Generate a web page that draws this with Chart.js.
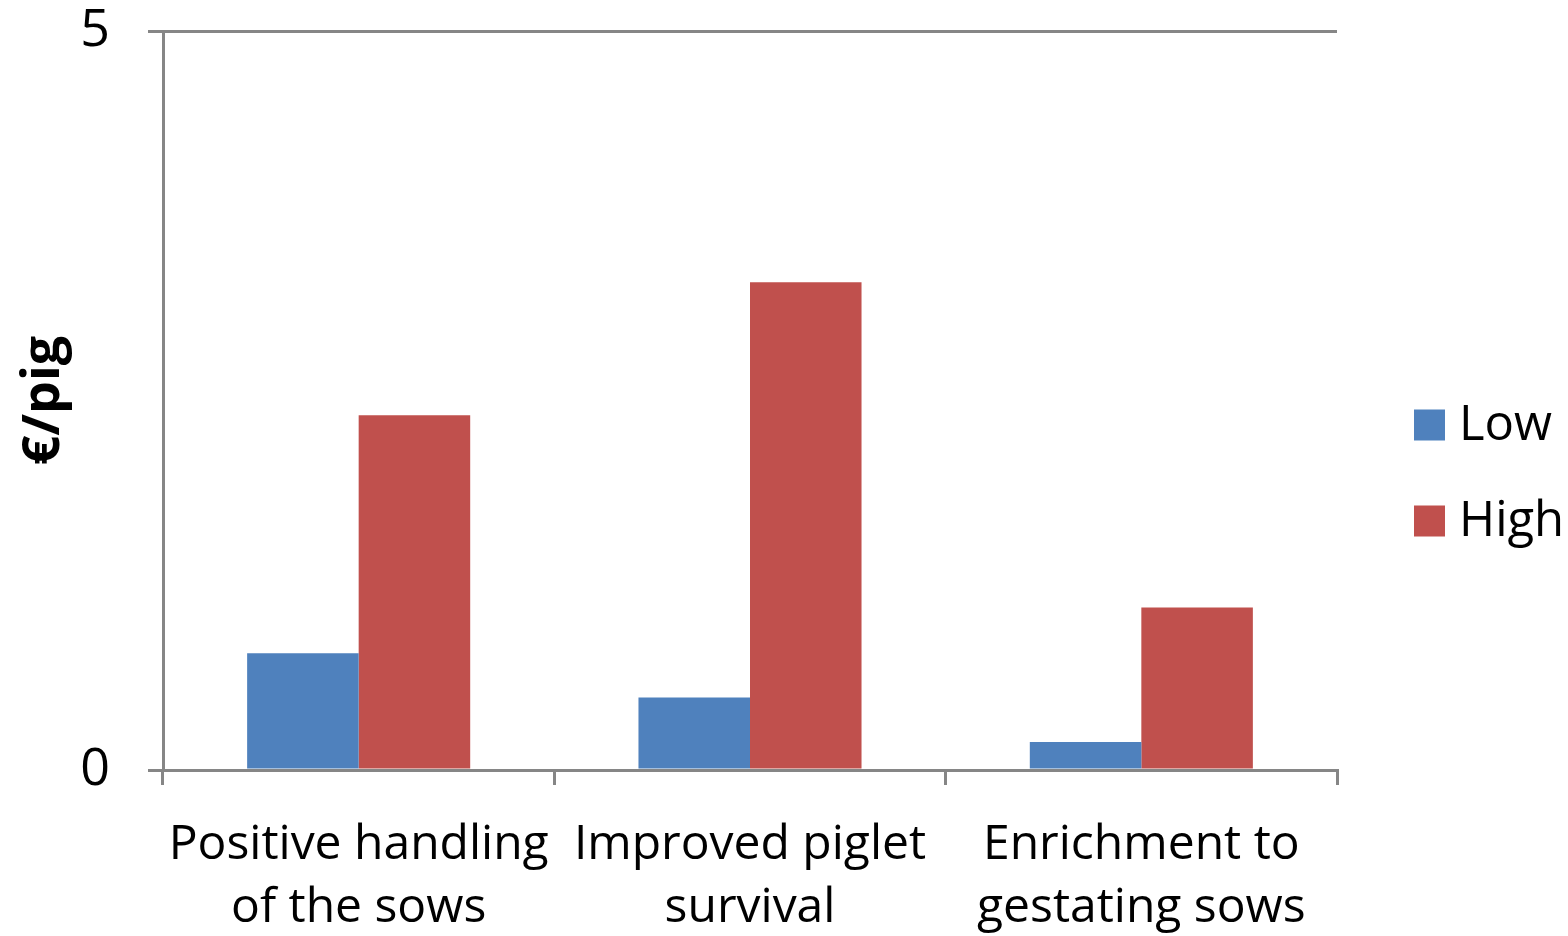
<!DOCTYPE html>
<html>
<head>
<meta charset="utf-8">
<script src="https://cdn.jsdelivr.net/npm/chart.js@4"></script>
<style>
  html, body { margin: 0; padding: 0; background: #fff; }
  #wrap { width: 1568px; height: 936px; }
</style>
</head>
<body>
<div id="wrap"><canvas id="myChart"></canvas></div>
<script>
const categories = [
    ['Positive handling', 'of the sows'],
    ['Improved piglet', 'survival'],
    ['Enrichment to', 'gestating sows']
];
const seriesNames = ['Low', 'High'];
const lowValues = [0.79, 0.49, 0.19];
const highValues = [2.40, 3.30, 1.10];
const yMin = 0;
const yMax = 5;

const axisGray = '#868686';
const fontFamily = "'Open Sans', 'Noto Sans', sans-serif";

// legend drawn at the right, like the original
const rightLegend = {
    id: 'rightLegend',
    afterDraw(chart) {
        const ctx = chart.ctx;
        ctx.save();
        ctx.font = '49px ' + fontFamily;
        ctx.textBaseline = 'middle';
        ctx.textAlign = 'left';
        chart.data.datasets.forEach((ds, i) => {
            const y = 425 + i * 96;
            ctx.fillStyle = ds.backgroundColor;
            ctx.fillRect(1414, y - 15.5, 31, 31);
            ctx.fillStyle = '#000';
            ctx.fillText(ds.label, 1459, y + 1);
        });
        ctx.restore();
    }
};

const ctx = document.getElementById('myChart');

new Chart(ctx,
{
    type: 'bar',
    data:
    {
        labels: categories,
        datasets:
        [
            {
                label: seriesNames[0],
                data: lowValues,
                backgroundColor: '#4F81BD',
                borderWidth: 0,
                categoryPercentage: 0.57,
                barPercentage: 1.0
            },
            {
                label: seriesNames[1],
                data: highValues,
                backgroundColor: '#C0504D',
                borderWidth: 0,
                categoryPercentage: 0.57,
                barPercentage: 1.0
            }
        ]
    },
    options:
    {
        responsive: true,
        maintainAspectRatio: false,
        animation: false,
        layout:
        {
            padding: { top: 31, right: 231, left: 0, bottom: 0 }
        },
        scales:
        {
            x:
            {
                offset: true,
                afterFit(scale) { scale.height = 166; },
                grid:
                {
                    offset: true,
                    drawOnChartArea: false,
                    drawTicks: true,
                    tickLength: 15,
                    color: axisGray,
                    lineWidth: 3
                },
                border: { color: axisGray, width: 3 },
                ticks:
                {
                    color: '#000',
                    padding: 29,
                    maxRotation: 0,
                    autoSkip: false,
                    font: { family: fontFamily, size: 48, lineHeight: 1.31 }
                }
            },
            y:
            {
                min: yMin,
                max: yMax,
                afterFit(scale) {
                    scale.width = 163;
                    // keep the top of the plot where the original has it
                    scale.paddingTop = 0;
                    scale.paddingBottom = 0;
                },
                grid:
                {
                    color: axisGray,
                    lineWidth: 3,
                    tickLength: 15,
                    drawTicks: true
                },
                border: { color: axisGray, width: 3 },
                ticks:
                {
                    stepSize: 5,
                    color: '#000',
                    padding: 38,
                    font: { family: fontFamily, size: 52 }
                },
                title:
                {
                    display: true,
                    text: '€/pig',
                    color: '#000',
                    padding: { top: 18, bottom: 0 },
                    font: { family: fontFamily, size: 52, weight: 'bold', lineHeight: 1.0 }
                }
            }
        },
        plugins:
        {
            legend: { display: false },
            tooltip: { enabled: false }
        }
    },
    plugins: [rightLegend]
});
</script>
</body>
</html>
